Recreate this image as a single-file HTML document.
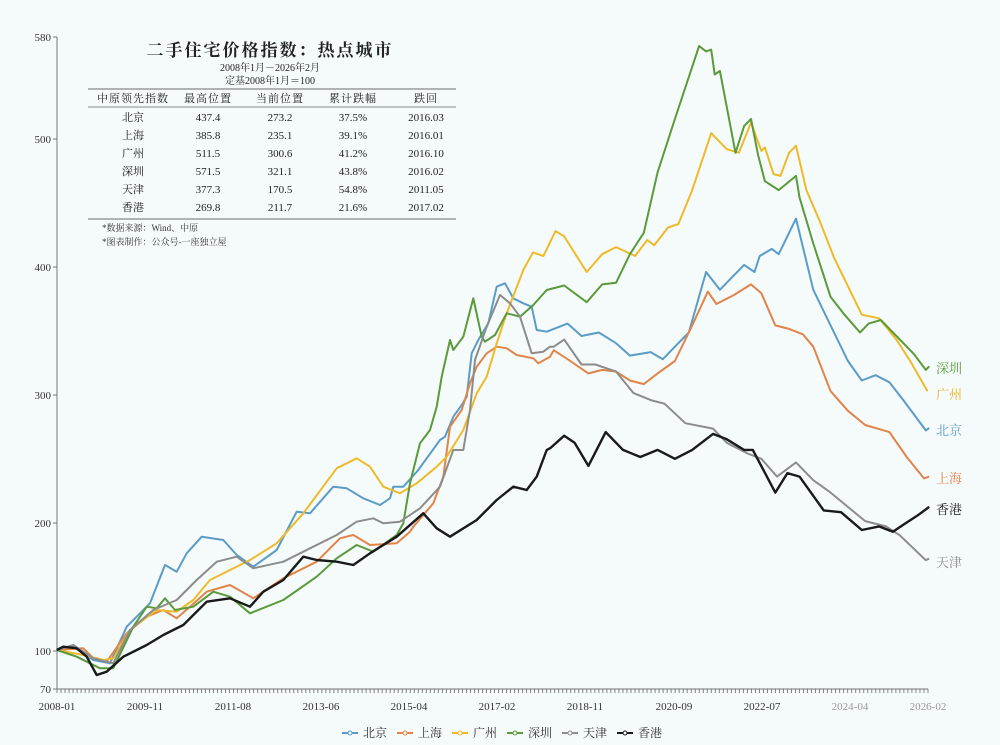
<!DOCTYPE html>
<html><head><meta charset="utf-8">
<style>
html,body{margin:0;padding:0;background:#f5fbfb;}
svg{display:block;font-family:"Liberation Serif","Noto Serif CJK SC",serif;}
</style></head>
<body>
<svg id="s" width="1000" height="745" viewBox="0 0 1000 745" xmlns="http://www.w3.org/2000/svg">
<rect width="1000" height="745" fill="#f5fbfb"/>
<!-- axes -->
<line x1="57" y1="37" x2="57" y2="689" stroke="#777" stroke-width="1"/>
<line x1="57" y1="689" x2="928" y2="689" stroke="#777" stroke-width="1"/>
<g id="ticks" stroke="#666" stroke-width="0.8"></g>
<g font-size="11" fill="#333" text-anchor="end">
<text x="51" y="41">580</text><text x="51" y="143">500</text><text x="51" y="271">400</text>
<text x="51" y="399">300</text><text x="51" y="527">200</text><text x="51" y="655">100</text><text x="51" y="693">70</text>
</g>
<g stroke="#777"><line x1="53" y1="37" x2="57" y2="37"/><line x1="53" y1="139" x2="57" y2="139"/><line x1="53" y1="267" x2="57" y2="267"/><line x1="53" y1="395" x2="57" y2="395"/><line x1="53" y1="523" x2="57" y2="523"/><line x1="53" y1="651" x2="57" y2="651"/><line x1="53" y1="689" x2="57" y2="689"/></g>
<g font-size="11" fill="#333" text-anchor="middle">
<text x="57" y="710">2008-01</text><text x="145" y="710">2009-11</text><text x="233" y="710">2011-08</text>
<text x="321" y="710">2013-06</text><text x="409" y="710">2015-04</text><text x="497" y="710">2017-02</text>
<text x="585" y="710">2018-11</text><text x="674" y="710">2020-09</text><text x="762" y="710">2022-07</text>
<text x="850" y="710" fill="#999">2024-04</text><text x="928" y="710" fill="#999">2026-02</text>
</g>
<!-- title table -->
<g fill="#222">
<text x="270" y="56" font-size="17" font-weight="bold" text-anchor="middle" letter-spacing="2">二手住宅价格指数：热点城市</text>
<text x="270" y="71" font-size="10" text-anchor="middle">2008年1月－2026年2月</text>
<text x="270" y="84" font-size="10" text-anchor="middle">定基2008年1月＝100</text>
</g>
<line x1="88" y1="89" x2="456" y2="89" stroke="#888" stroke-width="1.2"/>
<line x1="88" y1="107" x2="456" y2="107" stroke="#888" stroke-width="1"/>
<line x1="88" y1="219" x2="456" y2="219" stroke="#888" stroke-width="1.2"/>
<g font-size="11" fill="#222" text-anchor="middle">
<text x="133" y="102" letter-spacing="1">中原领先指数</text><text x="208" y="102" letter-spacing="1">最高位置</text><text x="280" y="102" letter-spacing="1">当前位置</text><text x="353" y="102" letter-spacing="1">累计跌幅</text><text x="426" y="102" letter-spacing="1">跌回</text>
<text x="133" y="121">北京</text><text x="208" y="121">437.4</text><text x="280" y="121">273.2</text><text x="353" y="121">37.5%</text><text x="426" y="121">2016.03</text>
<text x="133" y="139">上海</text><text x="208" y="139">385.8</text><text x="280" y="139">235.1</text><text x="353" y="139">39.1%</text><text x="426" y="139">2016.01</text>
<text x="133" y="157">广州</text><text x="208" y="157">511.5</text><text x="280" y="157">300.6</text><text x="353" y="157">41.2%</text><text x="426" y="157">2016.10</text>
<text x="133" y="175">深圳</text><text x="208" y="175">571.5</text><text x="280" y="175">321.1</text><text x="353" y="175">43.8%</text><text x="426" y="175">2016.02</text>
<text x="133" y="193">天津</text><text x="208" y="193">377.3</text><text x="280" y="193">170.5</text><text x="353" y="193">54.8%</text><text x="426" y="193">2011.05</text>
<text x="133" y="211">香港</text><text x="208" y="211">269.8</text><text x="280" y="211">211.7</text><text x="353" y="211">21.6%</text><text x="426" y="211">2017.02</text>
</g>
<g font-size="9" fill="#333">
<text x="102" y="231">*数据来源：Wind、中原</text>
<text x="102" y="245">*图表制作：公众号-一座独立屋</text>
</g>
<g id="lines" fill="none" stroke-width="2" stroke-linejoin="round"></g>
<!-- end labels -->
<g font-size="13">
<text x="936" y="373" fill="#5a9a3a">深圳</text>
<text x="936" y="399" fill="#e8b422">广州</text>
<text x="936" y="435" fill="#5b9bc8">北京</text>
<text x="936" y="483" fill="#e0844a">上海</text>
<text x="936" y="514" fill="#1a1a1a">香港</text>
<text x="936" y="567" fill="#8c8c8c">天津</text>
</g>
<!-- legend -->
<g font-size="12" fill="#333" id="leg"></g>
</svg>
<script>
var NS="http://www.w3.org/2000/svg";
var t=document.getElementById('ticks');
for(var m=0;m<=217;m++){var x=57+m*871/217;var l=document.createElementNS(NS,'line');l.setAttribute('x1',x);l.setAttribute('x2',x);l.setAttribute('y1',689);l.setAttribute('y2',693);t.appendChild(l);}
function L(a){return a.map(function(p){return [50+p[0]/3,250+p[1]/3];});}
function Z(a){return a.map(function(p){return [400+p[0]/3,270+p[1]/3];});}
function R(a){return a.map(function(p){return [450+p[0]/2.89,30+p[1]/2.81];});}
var S={
blue:{c:"#5b9bc8",p:L([[20,1200],[70,1190],[130,1230],[180,1240],[230,1130],[300,1060],[345,945],[380,965],[410,910],[455,860],[520,870],[560,915],[610,950],[680,900],[740,785],[780,790],[850,710],[890,715],[940,745],[990,765],[1020,745],[1030,710],[1060,710]]).concat(Z([[55,600],[80,565],[120,510],[135,500],[160,440],[185,405],[200,380],[215,250],[235,210],[265,160],[290,50],[315,40],[340,85],[370,100],[395,110],[410,180],[440,185]])).concat(R([[300,840],[340,825],[380,860],[430,850],[480,880],[520,915],[580,905],[615,925],[650,890],[690,850],[740,680],[780,730],[810,700],[850,660],[880,680],[895,635],[930,615],[950,630],[1000,530],[1050,730],[1100,830],[1150,930],[1190,985],[1230,970],[1270,990],[1310,1040],[1375,1125],[1385,1118]]))},
orange:{c:"#e0844a",p:L([[20,1200],[100,1195],[130,1225],[170,1235],[230,1150],[290,1100],[340,1080],[380,1105],[420,1070],[470,1025],[540,1005],[610,1045],[700,985],[800,935],[870,865],[910,855],[960,885],[1040,880],[1080,845]]).concat(Z([[40,770],[100,700],[130,620],[150,470],[185,420],[210,340],[230,290],[260,250],[290,230],[320,235],[350,255],[400,265],[415,280],[450,260]])).concat(R([[300,900],[340,925],[400,965],[440,955],[480,960],[520,985],[560,995],[600,965],[650,930],[700,830],[745,735],[770,770],[820,745],[870,715],[900,740],[940,830],[980,840],[1020,855],[1050,890],[1100,1015],[1150,1070],[1200,1110],[1270,1130],[1320,1200],[1370,1260],[1385,1255]]))},
yellow:{c:"#eeba2a",p:L([[20,1200],[100,1215],[160,1230],[190,1225],[240,1140],[320,1080],[380,1085],[430,1050],[480,990],[600,930],[680,880],[760,790],[860,655],[920,625],[960,650],[1000,710],[1050,730]]).concat(Z([[50,640],[110,590],[140,560],[190,480],[230,370],[260,320],[290,220],[320,130],[370,0]])).concat(R([[240,625],[270,635],[305,565],[330,580],[395,680],[440,630],[480,610],[535,635],[570,590],[590,605],[630,555],[660,545],[700,450],[755,290],[800,335],[835,345],[870,260],[900,340],[910,330],[935,405],[955,410],[980,345],[1000,325],[1030,450],[1070,540],[1110,640],[1150,720],[1190,800],[1240,810],[1290,870],[1330,930],[1380,1015]]))},
green:{c:"#5a9a3a",p:L([[20,1200],[80,1220],[120,1240],[150,1255],[190,1255],[250,1130],[290,1070],[320,1075],[345,1045],[375,1080],[430,1070],[490,1025],[540,1040],[600,1090],[700,1050],[800,980],[860,925],[920,885],[970,905],[1040,855]]).concat(Z([[10,760],[30,640],[60,520],[90,480],[110,410],[125,320],[150,210],[160,240],[190,200],[220,85],[245,200],[255,215],[285,195],[320,130],[360,140],[400,105],[440,60]])).concat(R([[330,718],[395,765],[440,715],[480,710],[520,630],[560,570],[600,400],[650,250],[720,45],[740,60],[755,55],[765,125],[780,115],[825,345],[850,270],[870,250],[890,350],[910,425],[950,450],[1000,410],[1010,470],[1050,600],[1100,750],[1140,800],[1185,850],[1210,825],[1245,815],[1290,860],[1340,910],[1375,955],[1385,945]]))},
gray:{c:"#8c8c8c",p:L([[20,1200],[70,1185],[130,1225],[190,1240],[240,1140],[310,1080],[380,1050],[440,990],[500,935],[560,920],[610,955],[700,935],[780,895],[860,855],[920,815],[970,805],[1000,820],[1050,815]]).concat(Z([[60,715],[120,650],[160,540],[190,540],[210,420],[225,270],[260,170],[300,75],[330,100],[360,140],[395,250],[430,245],[450,230]])).concat(R([[300,890],[330,870],[380,940],[420,940],[480,960],[530,1020],[580,1040],[620,1050],[680,1105],[760,1120],[800,1160],[860,1190],[900,1205],[945,1255],[1000,1215],[1050,1265],[1100,1300],[1150,1340],[1200,1380],[1260,1395],[1300,1420],[1375,1490],[1385,1485]]))},
black:{c:"#1a1a1a",p:L([[20,1200],[40,1190],[80,1195],[110,1220],[140,1275],[170,1265],[220,1220],[290,1185],[340,1155],[400,1125],[470,1055],[540,1045],[600,1070],[640,1025],[700,990],[760,920],[800,930],[860,935],[910,945],[960,910],[1040,860]]).concat(Z([[70,730],[110,775],[150,800],[230,750],[290,690],[340,650],[380,660],[410,620],[440,540]])).concat(R([[290,1175],[330,1140],[360,1160],[400,1225],[450,1130],[500,1180],[550,1200],[600,1180],[650,1205],[700,1180],[760,1135],[800,1150],[850,1180],[875,1180],[940,1300],[975,1245],[1010,1255],[1080,1350],[1130,1355],[1190,1405],[1240,1395],[1280,1410],[1310,1390],[1350,1365],[1385,1340]]))}
};
var g=document.getElementById('lines');
["blue","orange","yellow","green","gray","black"].forEach(function(k){
 var s=S[k];var pl=document.createElementNS(NS,'polyline');
 pl.setAttribute('points',s.p.map(function(p){return p[0].toFixed(1)+','+p[1].toFixed(1);}).join(' '));
 pl.setAttribute('stroke',s.c);pl.setAttribute('stroke-width',k=="black"?2.4:2);g.appendChild(pl);
});
var lg=document.getElementById('leg');
var items=[["北京","#5b9bc8"],["上海","#e0844a"],["广州","#eeba2a"],["深圳","#5a9a3a"],["天津","#8c8c8c"],["香港","#1a1a1a"]];
var x0=342;
items.forEach(function(it,i){
 var x=x0+i*55;
 var l=document.createElementNS(NS,'line');l.setAttribute('x1',x);l.setAttribute('x2',x+16);l.setAttribute('y1',733);l.setAttribute('y2',733);l.setAttribute('stroke',it[1]);l.setAttribute('stroke-width',2);lg.appendChild(l);
 var c=document.createElementNS(NS,'circle');c.setAttribute('cx',x+8);c.setAttribute('cy',733);c.setAttribute('r',2);c.setAttribute('fill','#f5fbfb');c.setAttribute('stroke',it[1]);lg.appendChild(c);
 var t=document.createElementNS(NS,'text');t.setAttribute('x',x+21);t.setAttribute('y',737);t.textContent=it[0];lg.appendChild(t);
});
</script>
</body></html>
